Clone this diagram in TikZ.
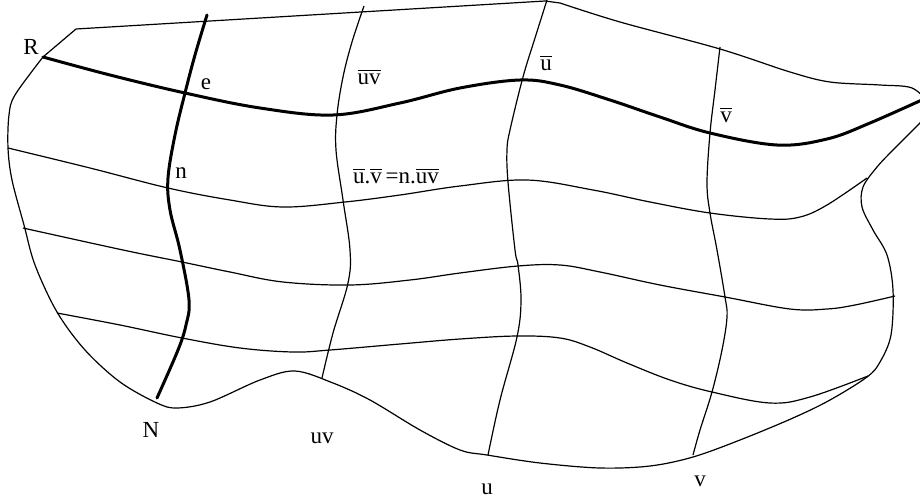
\documentclass[tikz,border=0pt]{standalone}
\usepackage{fontspec}
\setmainfont{Liberation Serif}
\usetikzlibrary{positioning}

\begin{document}
\begin{tikzpicture}[
  x=0.5pt, y=-0.5pt,
  thinline/.style={line width=0.6pt, line join=round},
  thickline/.style={line width=1.5pt, line cap=round},
  lbl/.style={font=\fontsize{11.5}{13}\selectfont, inner sep=0pt}
]
\useasboundingbox (0,0) rectangle (920,503);

% outline of the region
\draw[thinline] (76,29) -- (545,1)
  -- plot[smooth, tension=0.55] coordinates {(560,3) (620,22) (720,49) (790,72) (830,82) (880,85) (912,88) (930,104)}
  -- plot[smooth, tension=0.55] coordinates {(920,123) (893,150) (877,167) (863,187) (862,207) (873,230) (887,255)
    (893,290) (891,335) (880,362) (867,377) (830,400) (793,418) (740,440) (693,457) (650,466) (600,468)
    (540,463) (487,455) (460,450) (420,430) (370,400) (333,383) (295,371) (260,380) (210,402) (177,408)
    (157,403) (120,382) (85,350) (57,312) (35,265) (24,225) (12,180) (8,148) (9,115) (15,95) (43,57)}
  -- (76,29);

% horizontal lines
\draw[thickline] plot[smooth, tension=0.6] coordinates {(43,57) (110,75) (185,93) (260,108) (333,115)
  (400,103) (460,88) (520,80) (560,85) (610,100) (660,117) (710,133) (777,145) (827,139) (870,123) (935,94)};
\draw[thinline] plot[smooth, tension=0.6] coordinates {(8,148) (90,168) (168,188) (230,200) (283,207) (345,202)
  (400,195) (460,186) (527,180) (593,190) (650,202) (710,213) (770,219) (800,217) (827,205) (867,178)};
\draw[thinline] plot[smooth, tension=0.6] coordinates {(23,228) (123,250) (182,262) (230,272) (283,282) (350,285)
  (410,280) (460,273) (518,266) (560,265) (600,272) (660,285) (725,297) (790,309) (827,309) (855,305) (895,296)};
\draw[thinline] plot[smooth, tension=0.6] coordinates {(57,313) (120,325) (182,338) (240,348) (293,352) (330,350)
  (400,344) (460,339) (517,336) (560,338) (590,347) (627,363) (670,380) (712,392) (770,403) (810,397) (868,376)};

% vertical lines
\draw[thickline] plot[smooth, tension=0.6] coordinates {(207,15) (195,55) (185,93) (175,135) (168,178)
  (170,210) (180,250) (189,300) (186,325) (178,350) (157,398)};
\draw[thinline] plot[smooth, tension=0.6] coordinates {(364,6) (352,42) (343,77) (337,115) (336,150)
  (343,200) (350,250) (348,283) (333,333) (322,378)};
\draw[thinline] plot[smooth, tension=0.6] coordinates {(547,0) (535,38) (523,77) (510,130) (507,150)
  (508,182) (515,250) (518,265) (521,300) (517,337) (500,400) (488,455)};
\draw[thinline] plot[smooth, tension=0.6] coordinates {(720,47) (715,90) (710,133) (707,183) (710,213)
  (717,250) (725,297) (727,317) (722,350) (712,392) (700,430) (693,455)};

% labels
\node[lbl] (lR) at (31,47) {R};
\node[lbl] (le) at (206,84) {e};
\node[lbl] (ln) at (181,173) {n};
\node[lbl] (luvbar) at (369,77) {$\overline{\hbox{uv}}$};
\node[lbl] (lubar) at (546,63) {$\overline{\hbox{u}}$};
\node[lbl] (lvbar) at (726,115) {$\overline{\hbox{v}}$};
\node[lbl] (lrel) at (396,176) {$\overline{\hbox{u}}\hbox{.}\overline{\hbox{v}}\,\hbox{=n.}\overline{\hbox{uv}}$};
\node[lbl] (lN) at (151,430) {N};
\node[lbl] (luv) at (322,438) {uv};
\node[lbl] (lu) at (487,489) {u};
\node[lbl] (lv) at (700,481) {v};

\end{tikzpicture}
\end{document}
